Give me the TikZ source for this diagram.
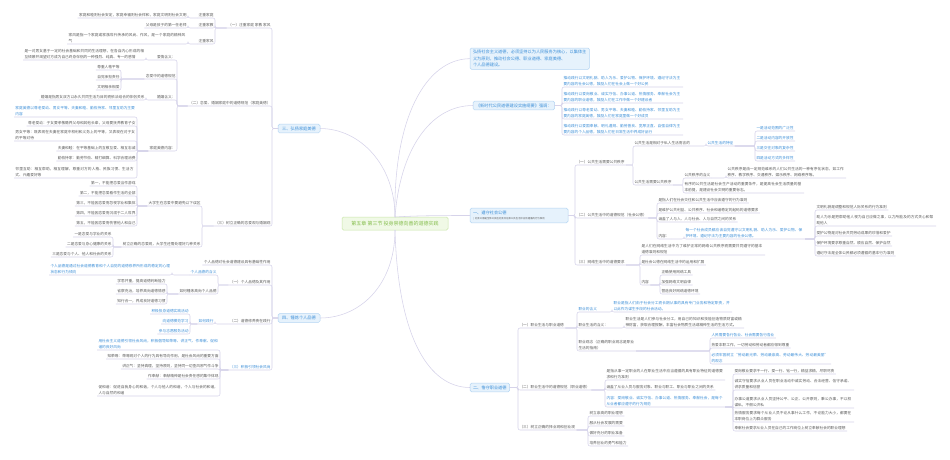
\documentclass[tikz,border=0pt]{standalone}
\usepackage{fontspec}
\newfontfamily\cjk{Noto Sans CJK SC}
\XeTeXlinebreaklocale "zh"
\XeTeXlinebreakskip=0pt plus 0.5pt
\definecolor{cline}{HTML}{D6D3EA}
\definecolor{ctxt}{HTML}{5A5A5A}
\definecolor{cblu}{HTML}{3D8FD8}
\definecolor{bfill}{HTML}{E6F2FC}
\definecolor{bdraw}{HTML}{B3D5F3}
\definecolor{gfill}{HTML}{F0F9E6}
\definecolor{gdraw}{HTML}{C9E6A9}
\definecolor{gtxt}{HTML}{86BE4E}
\tikzset{
  lt/.style={font=\cjk\fontsize{3.7}{6.7}\selectfont, text=ctxt, inner xsep=1.5pt, inner ysep=0.8pt, outer sep=0pt, align=left},
  bl/.style={text=cblu},
  conn/.style={draw=cline, line width=0.55pt, rounded corners=2pt},
  branch/.style={font=\cjk\fontsize{4.2}{6.3}\selectfont, text=cblu, fill=bfill, draw=bdraw, line width=0.5pt, rounded corners=1.5pt, inner xsep=3pt, inner ysep=2.4pt, outer sep=0pt},
  centre/.style={font=\cjk\fontsize{5}{6}\selectfont, text=gtxt, fill=gfill, draw=gdraw, line width=0.5pt, rounded corners=1.5pt, minimum width=106pt, minimum height=13pt, outer sep=0pt}
}
\newcommand\Lt[4][]{\node[lt,anchor=south east,#1] (#2) at (#3) {#4};}
\newcommand\Rt[4][]{\node[lt,anchor=south west,#1] (#2) at (#3) {#4};}
\newcommand\cL[2]{\draw[conn] (#1) -- (#1 -| #2.south east) -- (#2.south east) -- (#2.south west);}
\newcommand\cR[2]{\draw[conn] (#1) -- (#1 -| #2.south west) -- (#2.south west) -- (#2.south east);}
\begin{document}
\begin{tikzpicture}[x=1pt,y=-1pt]
\useasboundingbox (0,0) rectangle (950,459);
\fill[white] (0,0) rectangle (950,459);

% ---------- centre and main branches
\node[centre] (c) at (395,223.5) {第五章 第三节 投身崇德向善的道德实践};
\node[branch, minimum width=42pt] (b3) at (299,128.5) {三、弘扬家庭美德};
\node[branch, minimum width=42pt] (b4) at (299,318) {四、锤炼个人品德};
\node[branch, anchor=north west, align=left] (t1) at (470,48) {弘扬社会主义道德，必须坚持以为人民服务为核心，以集体主\\义为原则，推动社会公德、职业道德、家庭美德、\\个人品德建设。};
\node[branch, anchor=west] (t2) at (473,105.5) {《新时代公民道德建设实施纲要》强调：};
\node[branch, anchor=west, align=left, text width=92pt, font=\cjk\fontsize{4.2}{5.6}\selectfont] (b1) at (470,215.5) {一、遵守社会公德\\{\fontsize{2.4}{3}\selectfont\color{ctxt}| 社会公德是全体公民在社会交往和公共生活中应该遵循的行为准则}};
\node[branch, anchor=west] (b2) at (470,387.5) {二、恪守职业道德};

% ---------- 三、弘扬家庭美德
\Lt{a1}{272,28}{（一）注重家庭 家教 家风}
\Lt{a2}{272,106}{（二）恋爱、婚姻家庭中的道德规范（家庭美德）}
\Lt{a3}{272,226}{（三）树立正确的恋爱观与婚姻观}
\Lt{aa1}{215,18}{注重家庭}
\Lt{aa2}{215,28}{注重家教}
\Lt{aa3}{215,44}{注重家风}
\Lt{aaa1}{188,18}{家庭和睦则社会安定，家庭幸福则社会祥和，家庭文明则社会文明}
\Lt{aaa2}{188,28}{父母是孩子的第一任老师}
\Lt[text width=118pt]{aaa3}{188,44}{家风是指一个家庭或家族世代传承的风尚、作风，是一个家庭的精神风气}
\Lt{bai}{177,60}{爱情含义：}
\Lt[text width=120pt]{baic}{146,60}{是一对男女基于一定的社会基础和共同的生活理想，在各自内心形成的相互倾慕并渴望对方成为自己终身伴侣的一种强烈、纯真、专一的感情}
\Lt{blv}{177,79}{恋爱中的道德规范}
\Lt{lv1}{121,70}{尊重人格平等}
\Lt{lv2}{121,80}{自觉承担责任}
\Lt{lv3}{121,90}{文明相亲相爱}
\Lt{bhy}{177,100}{婚姻含义：}
\Lt{bhyc}{146,100}{婚姻是指男女双方以永久共同生活为目的而依法结合的伴侣关系}
\Lt{bjt}{177,151}{家庭美德内容：}
\Lt[text width=120pt,bl]{jt0}{137,117}{家庭美德以尊老爱幼、男女平等、夫妻和睦、勤俭持家、邻里互助为主要内容}
\Lt{jt1}{137,126}{尊老爱幼：子女要孝敬赡养父母和其他长辈，父母要抚养教育子女}
\Lt[text width=120pt]{jt2}{137,141}{男女平等：既表现在夫妻在家庭中权利和义务上的平等，又表现在对子女的平等对待}
\Lt{jt3}{137,151}{夫妻和睦：在平等基础上的互敬互爱、相互忠诚}
\Lt{jt4}{137,161}{勤俭持家：勤劳节俭、精打细算、科学合理消费}
\Lt[text width=120pt]{jt5}{137,178}{邻里互助：相互帮助，相互理解，尊重对方的人格、民族习惯、生活方式、兴趣爱好等}
\Lt{c1}{202,206}{大学生在恋爱中要避免以下误区}
\Lt{c11}{137,186}{第一，不能把恋爱当作游戏}
\Lt{c12}{137,196}{第二，不能把恋爱看作生活的全部}
\Lt{c13}{137,206}{第三，不能因恋爱而忽视学业和集体}
\Lt{c14}{137,216}{第四，不能因恋爱而沉溺于二人世界}
\Lt{c15}{137,226}{第五，不能因恋爱而伤害他人和自己}
\Lt{c2}{202,247}{树立正确的恋爱观，大学生还需处理好几种关系}
\Lt{c21}{113,237}{一是恋爱与学业的关系}
\Lt{c22}{113,247}{二是恋爱与身心健康的关系}
\Lt{c23}{113,257}{三是恋爱与个人、他人和社会的关系}

% ---------- 四、锤炼个人品德
\Lt{d0}{272,265}{个人品德对社会道德建设具有基础性作用}
\Lt{d1}{272,285}{（一）个人品德及其作用}
\Lt{d2}{272,324}{（二）道德修养贵在践行}
\Lt[bl]{d3}{272,370}{（三）积极引领社会风尚}
\Lt[bl]{d11}{218,275}{个人品德的含义}
\Lt[text width=120pt,bl]{d11c}{172,275}{个人品德是通过社会道德教育和个人自觉的道德修养所形成的稳定的心理状态和行为倾向}
\Lt{d12}{218,294}{如何锤炼高尚个人品德}
\Lt{d121}{167,284}{学思并重，提高道德判断能力}
\Lt{d122}{167,294}{省察克治，培养高尚道德情感}
\Lt{d123}{167,304}{知行合一，养成良好道德习惯}
\Lt[bl]{d21}{215,324}{如何践行}
\Lt[bl]{d211}{190,314}{积极投身道德实践活动}
\Lt[bl]{d212}{190,324}{向道德模范学习}
\Lt[bl]{d213}{190,334}{参与志愿服务活动}
\Lt[text width=120pt,bl]{d30}{220,350}{用社会主义道德引领社会风尚，积极倡导知荣辱、讲正气、作奉献、促和谐的良好风尚}
\Lt{d31}{220,359}{知荣辱：荣辱观对个人的行为具有导向作用，是社会风尚的重要方面}
\Lt{d32}{220,369}{讲正气：坚持真理，坚持原则，坚持同一切歪风邪气作斗争}
\Lt{d33}{220,379}{作奉献：奉献精神是社会责任感的集中体现}
\Lt[text width=120pt]{d34}{220,396}{促和谐：促进自我身心的和谐，个人与他人的和谐，个人与社会的和谐，人与自然的和谐}

% ---------- 纲要
\Rt[text width=118pt,bl]{t21}{562,87}{推动践行以文明礼貌、助人为乐、爱护公物、保护环境、遵纪守法为主要内容的社会公德，鼓励人们在社会上做一个好公民}
\Rt[text width=118pt,bl]{t22}{562,103}{推动践行以爱岗敬业、诚实守信、办事公道、热情服务、奉献社会为主要内容的职业道德，鼓励人们在工作中做一个好建设者}
\Rt[text width=118pt,bl]{t23}{562,119}{推动践行以尊老爱幼、男女平等、夫妻和睦、勤俭持家、邻里互助为主要内容的家庭美德，鼓励人们在家庭里做一个好成员}
\Rt[text width=118pt,bl]{t24}{562,135}{推动践行以爱国奉献、明礼遵规、勤劳善良、宽厚正直、自强自律为主要内容的个人品德，鼓励人们在日常生活中养成好品行}

% ---------- 一、遵守社会公德
\Rt{e1}{575,165}{（一）公共生活需要公共秩序}
\Rt{e2}{575,218}{（二）公共生活中的道德规范（社会公德）}
\Rt{e3}{575,265}{（三）网络生活中的道德要求}
\Rt{f1}{633,146}{公共生活是相对于私人生活而言的}
\Rt[bl]{f1c}{706,146}{公共生活的特征}
\Rt[bl]{f11}{755,131}{一是活动范围的广泛性}
\Rt[bl]{f12}{755,141}{二是活动内容的开放性}
\Rt[bl]{f13}{755,151}{三是交往对象的复杂性}
\Rt[bl]{f14}{755,161}{四是活动方式的多样性}
\Rt{f2}{633,185}{公共生活需要公共秩序}
\Rt{f21}{683,178}{公共秩序的含义}
\Rt[text width=117pt]{f21c}{726,178}{公共秩序是由一定规范维系的人们公共生活的一种有序化状态，如工作秩序、教学秩序、交通秩序、娱乐秩序、网络秩序等。}
\Rt[text width=118pt]{f22}{683,193}{有序的公共生活是社会生产活动的重要条件，是提高社会生活质量的基本前提，是建设社会文明的重要标志。}
\Rt{g1}{657,203}{是指人们在社会交往和公共生活中应该遵守的行为准则}
\Rt{g2}{657,213}{是维护公共利益、公共秩序、社会和谐稳定的起码的道德要求}
\Rt{g3}{657,222}{涵盖了人与人、人与社会、人与自然之间的关系}
\Rt{g4}{657,239}{内容：}
\Rt[text width=118pt,bl]{g4c}{684,239}{每一个社会成员都应该自觉遵守以文明礼貌、助人为乐、爱护公物、保护环境、遵纪守法为主要内容的社会公德。}
\Rt{h1}{815,210}{文明礼貌是调整和规范人际关系的行为准则}
\Rt[text width=118pt]{h2}{815,226}{助人为乐是把帮助他人视为自己应做之事，以力所能及的方式关心和帮助他人}
\Rt{h3}{815,236}{爱护公物是对社会共同劳动成果的珍惜和爱护}
\Rt{h4}{815,246}{保护环境要求尊重自然、顺应自然、保护自然}
\Rt{h5}{815,256}{遵纪守法是全体公民都必须遵循的基本行为准则}
\Rt[text width=122pt]{i1}{640,255}{是人们在网络生活中为了维护正常的网络公共秩序而需要共同遵守的基本道德准则和规范}
\Rt{i2}{640,265}{是社会公德在网络生活中的运用和扩展}
\Rt{i3}{640,285}{内容}
\Rt{i31}{660,275}{正确使用网络工具}
\Rt{i32}{660,285}{加强网络文明自律}
\Rt{i33}{660,294}{营造良好网络道德环境}

% ---------- 二、恪守职业道德
\Rt{j1}{518,328}{（一）职业生活与职业道德}
\Rt{j2}{518,390}{（二）职业生活中的道德规范（职业道德）}
\Rt{j3}{518,430}{（三）树立正确的择业观和创业观}
\Rt[bl]{k1}{577,312}{职业的含义}
\Rt[text width=117pt,bl]{k1c}{612,312}{职业是指人们由于社会分工而长期从事的具有专门业务和特定职责，并以此作为谋生手段的社会活动。}
\Rt{k2}{577,328}{职业生活的含义：}
\Rt[text width=117pt]{k2c}{624,328}{职业生活是人们参与社会分工，用自己的知识和技能创造物质财富或精神财富，获取合理报酬，丰富社会物质生活或精神生活的生活方式。}
\Rt[text width=56pt]{k3}{577,351}{职业观念（正确的职业观念是职业生活的指南）}
\Rt[bl]{k31}{710,338}{人民需要各行各业、社会需要各行各业}
\Rt{k32}{710,348}{热爱本职工作，一切劳动和劳动者都应得到尊重}
\Rt[text width=118pt,bl]{k33}{710,364}{必须牢固树立“劳动最光荣、劳动最崇高、劳动最伟大、劳动最美丽”的观念}
\Rt[text width=117pt]{l1}{605,380}{是指从事一定职业的人在职业生活中应当遵循的具有职业特征的道德要求和行为准则}
\Rt{l2}{605,390}{涵盖了从业人员与服务对象、职业与职工、职业与职业之间的关系}
\Rt[text width=117pt,bl]{l3}{605,407}{内容：爱岗敬业、诚实守信、办事公道、热情服务、奉献社会，是每个从业者都应遵守的行为规范}
\Rt{m1}{733,374}{爱岗敬业要求干一行、爱一行、钻一行，精益求精，尽职尽责}
\Rt[text width=118pt]{m2}{733,390}{诚实守信要求从业人员在职业活动中诚实劳动、合法经营、信守承诺、讲求质量和信誉}
\Rt[text width=118pt]{m3}{733,408}{办事公道要求从业人员坚持公平、公正、公开原则，秉公办事，不以权谋私，不假公济私}
\Rt[text width=118pt]{m4}{733,422}{热情服务要求每个从业人员不论从事什么工作，不论能力大小，都要在本职岗位上为群众服务}
\Rt{m5}{733,431}{奉献社会要求从业人员在自己的工作岗位上树立奉献社会的职业理想}
\Rt{n1}{588,416}{树立崇高的职业理想}
\Rt{n2}{588,426}{服从社会发展的需要}
\Rt{n3}{588,436}{做好充分的职业准备}
\Rt{n4}{588,446}{培养创业的勇气和能力}

% ---------- connectors from centre
\draw[conn] (c.north) .. controls (395,165) and (360,128.5) .. (b3.east);
\draw[conn] (c.north) .. controls (393,120) and (425,59) .. (t1.west);
\draw[conn] (c.north) .. controls (400,150) and (430,105.5) .. (t2.west);
\draw[conn] (c.north) .. controls (420,215.5) and (440,215.5) .. (b1.west);
\draw[conn] (c.south) .. controls (395,285) and (360,318) .. (b4.east);
\draw[conn] (c.south) .. controls (398,340) and (430,387.5) .. (b2.west);

% ---------- left connectors
\foreach \k in {a1,a2,a3} {\cL{b3.west}{\k}}
\foreach \k in {aa1,aa2,aa3} {\cL{a1.south west}{\k}}
\cL{aa1.south west}{aaa1}
\cL{aa2.south west}{aaa2}
\cL{aa3.south west}{aaa3}
\foreach \k in {bai,blv,bhy,bjt} {\cL{a2.south west}{\k}}
\cL{bai.south west}{baic}
\foreach \k in {lv1,lv2,lv3} {\cL{blv.south west}{\k}}
\cL{bhy.south west}{bhyc}
\foreach \k in {jt0,jt1,jt2,jt3,jt4,jt5} {\cL{bjt.south west}{\k}}
\foreach \k in {c1,c2} {\cL{a3.south west}{\k}}
\foreach \k in {c11,c12,c13,c14,c15} {\cL{c1.south west}{\k}}
\foreach \k in {c21,c22,c23} {\cL{c2.south west}{\k}}
\foreach \k in {d0,d1,d2,d3} {\cL{b4.west}{\k}}
\foreach \k in {d11,d12} {\cL{d1.south west}{\k}}
\cL{d11.south west}{d11c}
\foreach \k in {d121,d122,d123} {\cL{d12.south west}{\k}}
\cL{d2.south west}{d21}
\foreach \k in {d211,d212,d213} {\cL{d21.south west}{\k}}
\foreach \k in {d30,d31,d32,d33,d34} {\cL{d3.south west}{\k}}

% ---------- right connectors
\foreach \k in {t21,t22,t23,t24} {\cR{t2.east}{\k}}
\foreach \k in {e1,e2,e3} {\cR{b1.east}{\k}}
\foreach \k in {f1,f2} {\cR{e1.south east}{\k}}
\cR{f1.south east}{f1c}
\foreach \k in {f11,f12,f13,f14} {\cR{f1c.south east}{\k}}
\foreach \k in {f21,f22} {\cR{f2.south east}{\k}}
\cR{f21.south east}{f21c}
\foreach \k in {g1,g2,g3,g4} {\cR{e2.south east}{\k}}
\cR{g4.south east}{g4c}
\foreach \k in {h1,h2,h3,h4,h5} {\cR{g4c.south east}{\k}}
\foreach \k in {i1,i2,i3} {\cR{e3.south east}{\k}}
\foreach \k in {i31,i32,i33} {\cR{i3.south east}{\k}}
\foreach \k in {j1,j2,j3} {\cR{b2.east}{\k}}
\foreach \k in {k1,k2,k3} {\cR{j1.south east}{\k}}
\cR{k1.south east}{k1c}
\cR{k2.south east}{k2c}
\foreach \k in {k31,k32,k33} {\cR{k3.south east}{\k}}
\foreach \k in {l1,l2,l3} {\cR{j2.south east}{\k}}
\foreach \k in {m1,m2,m3,m4,m5} {\cR{l3.south east}{\k}}
\foreach \k in {n1,n2,n3,n4} {\cR{j3.south east}{\k}}
\end{tikzpicture}
\end{document}
